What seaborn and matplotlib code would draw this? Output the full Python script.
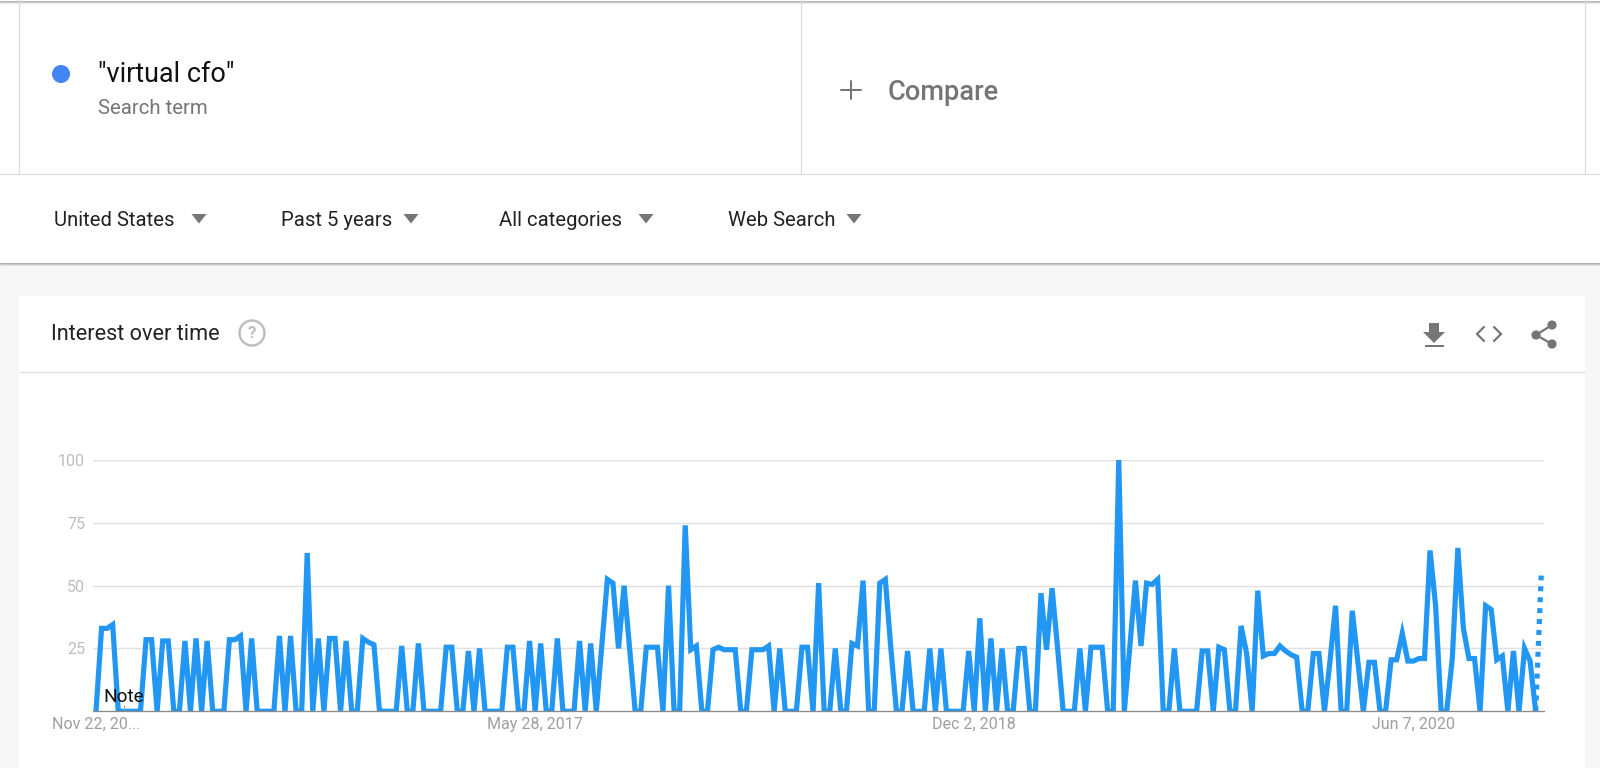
#!/usr/bin/env python3
# Google Trends screenshot: interest over time for "virtual cfo"

import pandas as pd
import seaborn as sns
import matplotlib
matplotlib.use("Agg")
import matplotlib.pyplot as plt
from matplotlib.patches import Circle, Polygon, Rectangle

# Weekly interest values
interest = [
    0, 33, 33, 34.5, 0, 0, 0, 0, 0, 28.5, 28.5, 0, 28, 28, 0, 0, 28, 0, 29, 0,
    28, 0, 0, 0, 28.5, 28.5, 30, 0, 29, 0, 0, 0, 0, 30, 0, 30, 0, 0, 63, 0,
    29, 0, 29, 29, 0, 28, 0, 0, 29, 27.5, 26.5, 0, 0, 0, 0, 26, 0, 0, 27, 0,
    0, 0, 0, 25.5, 25.5, 0, 0, 24, 0, 25, 0, 0, 0, 0, 25.5, 25.5, 0, 0, 28, 0,
    27, 0, 0, 29, 0, 0, 0, 28, 0, 27, 0, 26, 52.5, 51, 25, 50, 25, 0, 0, 25.5,
    25.5, 25.5, 0, 50, 0, 0, 74, 24.5, 26, 0, 0, 24.5, 25.5, 24.5, 24.5, 24.5, 0, 0, 24.5, 24.5,
    24.5, 26, 0, 25, 0, 0, 0, 25.5, 25.5, 0, 51, 0, 0, 25, 0, 0, 27, 26, 52, 0,
    0, 51, 52.5, 25, 0, 0, 24, 0, 0, 0, 25, 0, 25, 0, 0, 0, 0, 24, 0, 37,
    0, 29, 0, 25, 0, 0, 25, 25, 0, 0, 47, 24.5, 49, 25, 0, 0, 0, 25, 0, 25.5,
    25.5, 25.5, 0, 0, 100, 0, 26, 52, 26, 51, 50.5, 52.5, 0, 0, 25, 0, 0, 0, 0, 24,
    24, 0, 25.5, 24.5, 0, 0, 34, 23, 0, 48, 22, 23, 23, 26, 24, 22.5, 21.5, 0, 0, 23,
    23, 0, 20, 42, 0, 0, 40, 20, 0, 19.5, 19.5, 0, 0, 20.5, 20.5, 31, 20, 20, 21, 21,
    64, 42, 0, 0, 21, 65, 33, 21, 21, 0, 42, 40.5, 20.5, 22, 0, 24, 0, 25, 20, 0,
]
partial_value = 54
y_ticks = [25, 50, 75, 100]
x_tick_dates = ["2015-11-22", "2017-05-28", "2018-12-02", "2020-06-07"]
x_tick_labels = ["Nov 22, 20...", "May 28, 2017", "Dec 2, 2018", "Jun 7, 2020"]
note_date = "2015-12-27"
filters = ["United States", "Past 5 years", "All categories", "Web Search"]

W, H = 1600, 768
BLUE = "#2196f3"

sns.set_theme(style="white")
plt.rcParams["font.family"] = ["Roboto", "DejaVu Sans"]

dates = pd.date_range("2015-11-22", periods=len(interest) + 1, freq="7D")
df = pd.DataFrame({"date": dates[:-1], "interest": interest})
df_partial = pd.DataFrame({"date": dates[-2:], "interest": [interest[-1], partial_value]})

fig = plt.figure(figsize=(16, 7.68), dpi=100, facecolor="#f6f6f6")

# page furniture, drawn in pixel coordinates
bg = fig.add_axes([0, 0, 1, 1])
bg.set_xlim(0, W)
bg.set_ylim(H, 0)
bg.axis("off")


def px(points):
    # font size / width in px to points at dpi 100
    return points * 0.72


def label(x, y, s, size, color="#212121", ha="left", **kw):
    bg.text(x, y, s, fontsize=px(size), color=color, ha=ha, va="center", **kw)


bg.add_patch(Rectangle((0, 0), W, 263, fc="white", ec="none"))
for i, a in enumerate([0.55, 0.35, 0.15]):
    bg.plot([0, W], [i + 0.5, i + 0.5], color="#777777", alpha=a, lw=px(1))
    bg.plot([0, W], [262.5 + i, 262.5 + i], color="#777777", alpha=a, lw=px(1))
bg.plot([0, W], [174, 174], color="#dadada", lw=px(1.2))
for x in [19, 801, 1585]:
    bg.plot([x, x], [0, 174], color="#dadada", lw=px(1.2))

# search term box
bg.add_patch(Circle((61, 74), 9, fc="#4285f4", ec="none"))
label(98, 75, '"virtual cfo"', 27, color="#111111")
label(98, 108, "Search term", 20.4, color="#757575")
bg.plot([851, 851], [81, 99], color="#757575", lw=px(2))
bg.plot([841, 861], [90, 90], color="#757575", lw=px(2))
label(888, 93, "Compare", 27.3, color="#757575", fontweight="medium")

# dropdown filters
for name, tx, tri in zip(filters, [54, 281, 499, 728], [199, 411, 646, 854]):
    label(tx, 220, name, 20.3, color="#212121")
    bg.add_patch(Polygon([(tri - 7.5, 214), (tri + 7.5, 214), (tri, 223.5)], fc="#757575", ec="none"))

# chart card
bg.add_patch(Rectangle((19, 296), 1566, H - 296, fc="white", ec="none"))
bg.plot([19, 1585], [371.5, 371.5], color="#e0e0e0", lw=px(1.2))
label(51, 335, "Interest over time", 21.6, color="#212121")
bg.add_patch(Circle((252, 333), 12.5, fc="none", ec="#bdbdbd", lw=px(2.4)))
label(252, 333.5, "?", 17, color="#bdbdbd", ha="center", fontweight="bold")

# download icon
bg.add_patch(Polygon([(1429, 323), (1439, 323), (1439, 332), (1445, 332), (1434, 343), (1423, 332), (1429, 332)],
                     fc="#757575", ec="none"))
bg.add_patch(Rectangle((1425, 344.5), 19, 2.5, fc="#757575", ec="none"))
# embed icon
bg.plot([1484, 1477, 1484], [327, 334, 341], color="#757575", lw=px(2.2), solid_joinstyle="miter")
bg.plot([1494, 1501, 1494], [327, 334, 341], color="#757575", lw=px(2.2), solid_joinstyle="miter")
# share icon
bg.plot([1552, 1536, 1552], [325, 335, 344], color="#757575", lw=px(2.2))
for cx, cy in [(1552, 325), (1536, 335), (1552, 344)]:
    bg.add_patch(Circle((cx, cy), 4.6, fc="#757575", ec="none"))

# trends chart axes, x 93..1544 and y 460..711 in px
ax = fig.add_axes([93 / W, 1 - 711.3 / H, (1544 - 93) / W, (711.3 - 460) / H])
ax.patch.set_alpha(0)
ax.set_axisbelow(True)
ax.yaxis.grid(True, color="#e0e0e0", lw=px(1.4))
ax.xaxis.grid(False)

sns.lineplot(data=df, x="date", y="interest", ax=ax, color=BLUE, lw=px(5.2),
             solid_joinstyle="miter", solid_capstyle="butt", errorbar=None)
sns.lineplot(data=df_partial, x="date", y="interest", ax=ax, color=BLUE, lw=px(5.2),
             linestyle=(0, (0.95, 1.15)), errorbar=None)

week = pd.Timedelta(days=7)
ax.set_xlim(dates[0] - 0.54 * week, dates[0] + 260.5 * week)
ax.set_ylim(0, 100)
ax.set_xlabel("")
ax.set_ylabel("")
ax.set_yticks(y_ticks)
ax.set_yticklabels([str(v) for v in y_ticks], color="#bdbdbd", fontsize=px(16))
ax.set_xticks(pd.to_datetime(x_tick_dates))
ax.set_xticklabels(x_tick_labels, color="#9e9e9e", fontsize=px(16))
ax.tick_params(axis="both", length=0)
ax.tick_params(axis="y", pad=px(8))
ax.tick_params(axis="x", pad=px(6))
for side in ["top", "right", "left"]:
    ax.spines[side].set_visible(False)
ax.spines["bottom"].set_color("#8a8a8a")
ax.spines["bottom"].set_linewidth(px(1.3))

# annotation flag at the start of the series
ax.plot([pd.Timestamp(note_date)] * 2, [0, 2.5], color="#b0a090", lw=px(1))
ax.text(pd.Timestamp(note_date), 5.6, "Note", fontsize=px(19), color="#111111", ha="center", va="center")

fig.savefig("out.png", dpi=100, facecolor=fig.get_facecolor())
